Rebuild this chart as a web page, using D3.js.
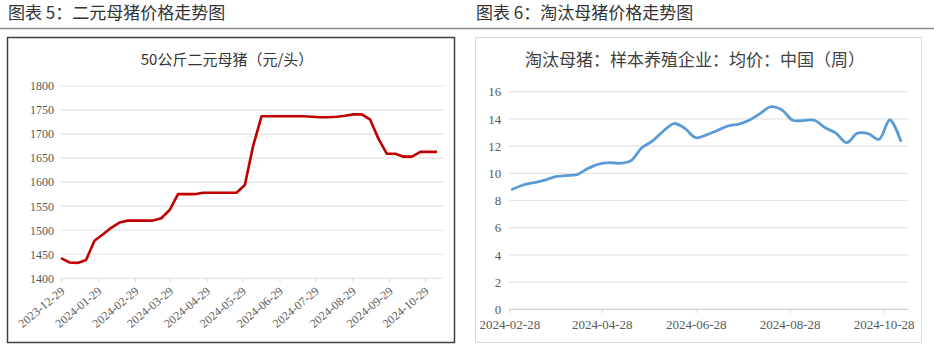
<!DOCTYPE html>
<html>
<head>
<meta charset="utf-8">
<script src="https://cdn.jsdelivr.net/npm/d3@7"></script>
<style>
body{margin:0;background:#fff;}
svg{display:block;}
</style>
</head>
<body>
<div id="chart"></div>
<script>
// 图表5: 50公斤二元母猪, weekly from 2023-12-29
let leftStart = "2023-12-29";
let leftValues = [1442,1433,1432,1438,1478,1491,1505,1516,1520,1520,1520,1520,1525,1542,1575,1575,
    1575,1578,1578,1578,1578,1578,1594,1676,1737,1737,1737,1737,1737,1737,1736,1735,1735,1736,1738,
    1741,1741,1730,1690,1659,1659,1653,1653,1663,1663,1663];
let leftTicks = ["2023-12-29","2024-01-29","2024-02-29","2024-03-29","2024-04-29","2024-05-29",
    "2024-06-29","2024-07-29","2024-08-29","2024-09-29","2024-10-29"];
let leftYTicks = [1400,1450,1500,1550,1600,1650,1700,1750,1800];

// 图表6: 淘汰母猪均价, weekly from 2024-03-01
let rightStart = "2024-03-01";
let rightValues = [8.82,9.14,9.31,9.5,9.75,9.83,9.9,10.35,10.68,10.78,10.74,10.93,11.88,12.38,13.1,13.66,
    13.3,12.62,12.82,13.15,13.48,13.62,13.92,14.41,14.9,14.65,13.9,13.88,13.9,13.35,12.95,12.25,
    12.95,12.92,12.5,13.92,12.4];
let rightTicks = ["2024-02-28","2024-04-28","2024-06-28","2024-08-28","2024-10-28"];
let rightYTicks = [0,2,4,6,8,10,12,14,16];

let parse = d3.timeParse("%Y-%m-%d");

function weekly(start, values){
    let s = parse(start);
    return values.map((v,i) => ({date: d3.timeDay.offset(s, i*7), value: v}));
}

let svg = d3.select("#chart").append("svg")
    .attr("width", 934).attr("height", 351);

// headers
svg.append("text").attr("x", 8).attr("y", 19)
    .style("font-family", "'Noto Sans CJK SC'").style("font-size", "17px").style("fill", "#333")
    .text("图表 5：二元母猪价格走势图");
svg.append("text").attr("x", 476).attr("y", 19)
    .style("font-family", "'Noto Sans CJK SC'").style("font-size", "17px").style("fill", "#333")
    .text("图表 6：淘汰母猪价格走势图");
svg.append("line").attr("x1", 0).attr("x2", 934).attr("y1", 28.5).attr("y2", 28.5)
    .style("stroke", "#8c8c8c").style("stroke-width", 1.5);

drawLeft();
drawRight();

function drawLeft(){
    let g = svg.append("g");
    g.append("rect").attr("x", 7.5).attr("y", 37.5).attr("width", 447).attr("height", 305)
        .style("fill", "#fff").style("stroke", "#404040").style("stroke-width", 1.5);
    g.append("text").attr("x", 227).attr("y", 65).attr("text-anchor", "middle")
        .style("font-family", "'Noto Sans CJK SC'").style("font-size", "15px").style("fill", "#333")
        .text("50公斤二元母猪（元/头）");

    let data = weekly(leftStart, leftValues);
    let xScale = d3.scaleTime()
        .domain([parse("2023-12-29"), parse("2024-11-13")])
        .range([61, 443]);
    let yScale = d3.scaleLinear().domain([1400,1800]).range([278.3, 86]);

    leftYTicks.forEach(t => {
        g.append("line").attr("x1", 61).attr("x2", 443)
            .attr("y1", yScale(t)).attr("y2", yScale(t))
            .style("stroke", "#e3e3e3").style("stroke-width", 1.2);
    });
    let axisY = d3.axisLeft(yScale).tickValues(leftYTicks).tickSize(0).tickPadding(7)
        .tickFormat(d3.format("d"));
    g.append("g").attr("transform", "translate(61,0)").call(axisY)
        .call(a => a.select(".domain").remove())
        .selectAll("text").style("font-family", "'Liberation Serif'").style("font-size", "12px")
        .style("fill", "#595959");

    let axisX = d3.axisBottom(xScale).tickValues(leftTicks.map(parse)).tickSize(4)
        .tickFormat(d3.timeFormat("%Y-%m-%d"));
    let gx = g.append("g").attr("transform", "translate(0," + yScale(1400) + ")").call(axisX);
    gx.select(".domain").remove();
    gx.selectAll("line").style("stroke", "#d9d9d9");
    gx.selectAll("text")
        .attr("text-anchor", "end").attr("dy", null).attr("y", 0).attr("x", 0)
        .attr("transform", "translate(4,14) rotate(-40)")
        .style("font-family", "'Liberation Serif'").style("font-size", "12px").style("fill", "#595959");

    let line = d3.line().x(d => xScale(d.date)).y(d => yScale(d.value));
    g.append("path").datum(data).attr("d", line)
        .style("fill", "none").style("stroke", "#c00000").style("stroke-width", 2.6)
        .style("stroke-linejoin", "round");
}

function drawRight(){
    let g = svg.append("g");
    g.append("rect").attr("x", 475.5).attr("y", 37.5).attr("width", 446).attr("height", 305)
        .style("fill", "#fff").style("stroke", "#d9d9d9").style("stroke-width", 1);
    g.append("text").attr("x", 695).attr("y", 66).attr("text-anchor", "middle")
        .style("font-family", "'Noto Sans CJK SC'").style("font-size", "17px").style("fill", "#404040")
        .text("淘汰母猪：样本养殖企业：均价：中国（周）");

    let data = weekly(rightStart, rightValues);
    let xScale = d3.scaleTime()
        .domain([parse("2024-02-28"), parse("2024-11-13")])
        .range([509.3, 908.3]);
    let yScale = d3.scaleLinear().domain([0,16]).range([309.3, 91.7]);

    rightYTicks.forEach(t => {
        g.append("line").attr("x1", 509.3).attr("x2", 908.3)
            .attr("y1", yScale(t)).attr("y2", yScale(t))
            .style("stroke", t === 0 ? "#d0d0d0" : "#e3e3e3").style("stroke-width", 1.2);
    });
    let axisY = d3.axisLeft(yScale).tickValues(rightYTicks).tickSize(0).tickPadding(8);
    g.append("g").attr("transform", "translate(509.3,0)").call(axisY)
        .call(a => a.select(".domain").remove())
        .selectAll("text").style("font-family", "'Liberation Serif'").style("font-size", "13px")
        .style("fill", "#595959");

    let axisX = d3.axisBottom(xScale).tickValues(rightTicks.map(parse)).tickSize(4).tickPadding(6)
        .tickFormat(d3.timeFormat("%Y-%m-%d"));
    let gx = g.append("g").attr("transform", "translate(0," + yScale(0) + ")").call(axisX);
    gx.select(".domain").remove();
    gx.selectAll("line").style("stroke", "#d9d9d9");
    gx.selectAll("text").style("font-family", "'Liberation Serif'").style("font-size", "13px")
        .style("fill", "#595959");

    let line = d3.line().x(d => xScale(d.date)).y(d => yScale(d.value)).curve(d3.curveCatmullRom);
    g.append("path").datum(data).attr("d", line)
        .style("fill", "none").style("stroke", "#5b9bd5").style("stroke-width", 2.8)
        .style("stroke-linejoin", "round").style("stroke-linecap", "round");
}
</script>
</body>
</html>
